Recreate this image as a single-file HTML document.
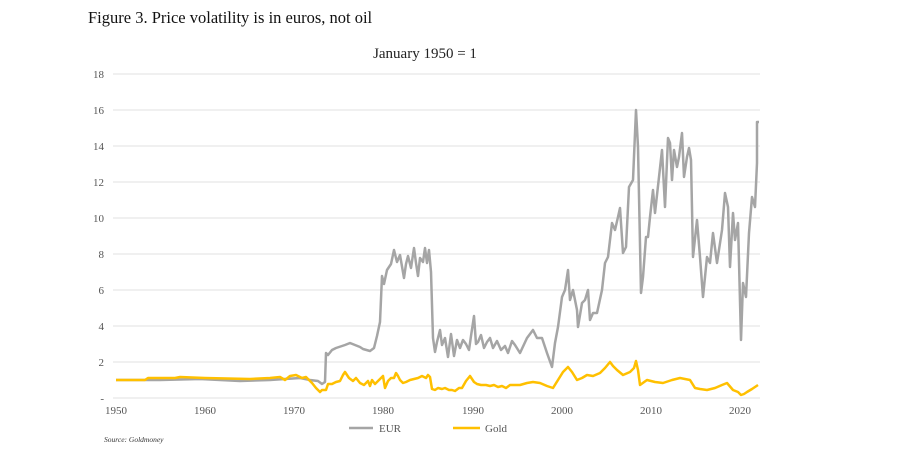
<!DOCTYPE html>
<html><head><meta charset="utf-8"><style>
body{margin:0;background:#fff;width:899px;height:451px;overflow:hidden}
svg{display:block}
</style></head><body>
<svg width="899" height="451" xmlns="http://www.w3.org/2000/svg" font-family="Liberation Serif, serif">
<text x="88" y="23" font-size="16.5" fill="#111">Figure 3. Price volatility is in euros, not oil</text>
<text x="425" y="58" font-size="15" fill="#222" text-anchor="middle">January 1950 = 1</text>
<g stroke="#e2e2e2" stroke-width="1">
<line x1="113" x2="760" y1="74" y2="74"/><line x1="113" x2="760" y1="110" y2="110"/>
<line x1="113" x2="760" y1="146" y2="146"/><line x1="113" x2="760" y1="182" y2="182"/>
<line x1="113" x2="760" y1="218" y2="218"/><line x1="113" x2="760" y1="254" y2="254"/>
<line x1="113" x2="760" y1="290" y2="290"/><line x1="113" x2="760" y1="326" y2="326"/>
<line x1="113" x2="760" y1="362" y2="362"/><line x1="113" x2="760" y1="398" y2="398"/>
</g>
<g font-size="11" fill="#555" text-anchor="end">
<text x="104" y="78">18</text><text x="104" y="114">16</text><text x="104" y="150">14</text>
<text x="104" y="186">12</text><text x="104" y="222">10</text><text x="104" y="258">8</text>
<text x="104" y="294">6</text><text x="104" y="330">4</text><text x="104" y="366">2</text>
<text x="104" y="402">-</text>
</g>
<g font-size="11" fill="#555" text-anchor="middle">
<text x="116" y="414">1950</text><text x="205" y="414">1960</text><text x="294" y="414">1970</text>
<text x="383" y="414">1980</text><text x="473" y="414">1990</text><text x="562" y="414">2000</text>
<text x="651" y="414">2010</text><text x="740" y="414">2020</text>
</g>
<polyline fill="none" stroke="#a5a5a5" stroke-width="2.5" stroke-linejoin="round" points="116,380 160,380 200,379 240,381 270,380 285,379 300,378 310,380 318,381 322,384 325,382 326,353 328,355 332,350 336,348 345,345 350,343 355,345 360,347 363,349 370,351 374,348 377,336 380,322 382,276 384,284 387,270 391,264 394,250 397,262 400,255 404,278 406,264 408,256 411,268 414,248 416,263 418,276 420,258 423,262 425,248 427,263 429,250 431,272 433,338 435,352 437,342 440,330 442,345 445,338 448,357 451,334 454,356 457,340 460,348 463,340 466,344 469,350 471,336 474,316 476,344 478,342 481,335 484,348 487,342 490,338 493,348 497,341 501,350 505,346 508,353 512,341 515,345 520,353 527,338 533,330 537,338 542,338 547,353 552,367 555,343 558,327 562,297 565,290 568,270 570,300 573,290 577,310 578,327 582,303 585,300 588,290 590,320 593,313 597,313 602,290 605,263 608,257 612,223 615,230 618,217 620,208 623,253 626,247 629,187 633,180 636,110 638,147 641,293 643,277 646,237 648,237 650,217 653,190 655,213 659,177 662,150 665,207 668,138 670,143 672,180 674,150 677,167 679,157 682,133 684,177 687,157 689,148 691,160 693,257 697,220 700,257 703,297 707,257 710,263 713,233 717,263 722,230 725,193 728,207 730,267 733,213 735,240 738,223 741,340 743,283 746,297 749,233 752,197 755,207 757,163 757,122 759,122"/>
<polyline fill="none" stroke="#ffc000" stroke-width="2.5" stroke-linejoin="round" points="116,380 145,380 148,378 175,378 180,377 205,378 250,379 270,378 280,377 285,380 290,376 296,375 302,378 306,377 312,383 316,388 320,392 322,390 326,390 328,384 332,384 336,382 340,381 343,375 345,372 349,378 353,381 356,378 360,383 364,385 368,381 370,386 372,380 375,384 378,381 383,376 385,388 388,381 391,378 394,378 396,373 398,376 400,380 403,383 406,382 410,380 414,379 418,378 422,376 426,378 428,375 430,377 432,389 435,390 438,388 442,389 445,388 449,390 452,390 455,391 459,388 462,388 466,381 470,376 474,382 477,384 481,385 486,385 490,386 494,385 498,387 502,386 506,388 510,385 514,385 520,385 527,383 533,382 540,383 547,386 553,388 558,380 563,372 568,367 572,372 577,380 582,378 587,375 593,376 600,373 605,368 610,362 613,366 617,370 623,375 630,372 634,368 636,361 638,370 640,385 647,380 655,382 663,383 672,380 680,378 690,380 695,388 700,389 707,390 715,388 722,385 727,383 733,390 738,392 741,395 744,394 747,392 752,389 758,385"/>
<line x1="349" x2="373" y1="428" y2="428" stroke="#a5a5a5" stroke-width="2.5"/>
<text x="379" y="432" font-size="11" fill="#555">EUR</text>
<line x1="453" x2="480" y1="428" y2="428" stroke="#ffc000" stroke-width="2.5"/>
<text x="485" y="432" font-size="11" fill="#555">Gold</text>
<text x="104" y="442" font-size="7.5" font-style="italic" fill="#333">Source: Goldmoney</text>
</svg>
</body></html>
